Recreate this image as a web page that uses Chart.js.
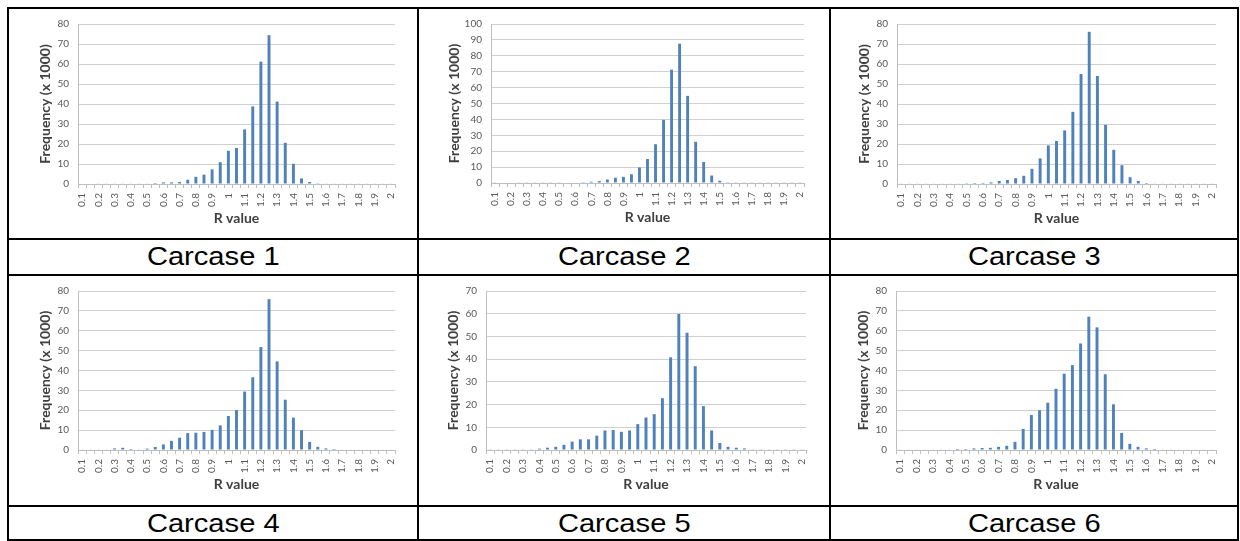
<!DOCTYPE html>
<html>
<head>
<meta charset="utf-8">
<title>R value distributions</title>
<script src="https://cdn.jsdelivr.net/npm/chart.js"></script>
<style>
    body { margin: 0; background: #fff; width: 1240px; height: 541px; position: relative; overflow: hidden; }
    .rule { position: absolute; background: #000; }
    canvas { position: absolute; }
    .caption { position: absolute; text-align: center; font-family: "Liberation Sans", Arial, sans-serif; font-size: 26px; color: #000; line-height: 33px; }
    .caption span { display: inline-block; transform: scaleX(1.12); }
</style>
</head>
<body>
<canvas id="carcase1"></canvas>
<canvas id="carcase2"></canvas>
<canvas id="carcase3"></canvas>
<canvas id="carcase4"></canvas>
<canvas id="carcase5"></canvas>
<canvas id="carcase6"></canvas>

<script>
// R value bins (0.05 wide); only every other one gets a label
const rValues = ['0.1', '0.15', '0.2', '0.25', '0.3', '0.35', '0.4', '0.45', '0.5', '0.55',
                 '0.6', '0.65', '0.7', '0.75', '0.8', '0.85', '0.9', '0.95', '1', '1.05',
                 '1.1', '1.15', '1.2', '1.25', '1.3', '1.35', '1.4', '1.45', '1.5', '1.55',
                 '1.6', '1.65', '1.7', '1.75', '1.8', '1.85', '1.9', '1.95', '2'];

// Frequency (x 1000) per bin
const carcase1 = [0, 0, 0.3, 0.3, 0.3, 0.3, 0.3, 0.3, 0.3, 0.5,
                  0.8, 0.8, 1.0, 2.1, 3.6, 4.7, 7.3, 10.9, 16.6, 18.0,
                  27.3, 38.8, 61.2, 74.4, 41.2, 20.6, 10.1, 2.8, 1.0, 0.4,
                  0.3, 0.3, 0.3, 0.3, 0.3, 0.3, 0.3, 0.3, 0.3];
const carcase2 = [0.2, 0.3, 0.3, 0.2, 0.2, 0.2, 0.2, 0.2, 0.2, 0.3,
                  0.3, 0.5, 0.8, 1.2, 2.2, 3.3, 3.9, 5.5, 9.8, 15.1,
                  24.4, 39.7, 71.3, 87.6, 54.8, 25.9, 13.2, 4.7, 1.4, 0.5,
                  0.2, 0.2, 0.2, 0.2, 0.2, 0.2, 0.2, 0.2, 0.2];
const carcase3 = [0.3, 0.3, 0.3, 0.3, 0.3, 0.3, 0.3, 0.3, 0.4, 0.5,
                  0.5, 0.8, 1.5, 2.0, 2.9, 4.1, 7.6, 12.8, 19.3, 21.5,
                  26.8, 36.1, 55.0, 76.1, 54.0, 29.6, 17.1, 9.4, 3.4, 1.5,
                  0.5, 0.3, 0.3, 0.3, 0.3, 0.3, 0.3, 0.3, 0.3];
const carcase4 = [0.2, 0.3, 0.3, 0.3, 0.8, 1.1, 0.5, 0.3, 0.7, 1.5,
                  2.8, 4.6, 6.2, 8.5, 8.7, 9.1, 10.1, 12.4, 17.1, 20.1,
                  29.4, 36.6, 51.8, 75.9, 44.6, 25.3, 16.3, 10.0, 4.1, 1.6,
                  0.8, 0.5, 0.3, 0.3, 0.3, 0.3, 0.3, 0.3, 0.3];
const carcase5 = [0.3, 0.3, 0.3, 0.3, 0.3, 0.3, 0.6, 1.0, 1.4, 2.3,
                  3.7, 4.7, 4.7, 6.3, 8.6, 8.8, 8.0, 8.6, 11.4, 14.3,
                  15.8, 22.8, 40.8, 59.9, 51.6, 36.9, 19.3, 8.6, 3.1, 1.4,
                  1.0, 0.7, 0.3, 0.3, 0.3, 0.3, 0.3, 0.3, 0.3];
const carcase6 = [0.3, 0.3, 0.3, 0.3, 0.3, 0.3, 0.3, 0.5, 0.5, 0.8,
                  1.0, 1.1, 1.6, 2.1, 4.1, 10.6, 17.6, 20.0, 23.8, 30.8,
                  38.4, 42.7, 53.6, 67.1, 61.7, 38.1, 23.0, 8.6, 3.1, 1.6,
                  0.8, 0.5, 0.3, 0.3, 0.3, 0.3, 0.3, 0.3, 0.3];

const yMaxes = [80, 100, 80, 80, 70, 80];
const captions = ['Carcase 1', 'Carcase 2', 'Carcase 3', 'Carcase 4', 'Carcase 5', 'Carcase 6'];

// table grid
const colEdges = [7, 417, 829, 1237];
const rowEdges = [7, 238, 274, 504.5, 539];

// cell boxes the canvases sit in, and where each plot area should land
const boxes = [
    { l: 9, t: 9, r: 416, b: 238 },
    { l: 419, t: 9, r: 828, b: 238 },
    { l: 831, t: 9, r: 1236, b: 238 },
    { l: 9, t: 276, r: 416, b: 504 },
    { l: 419, t: 276, r: 828, b: 504 },
    { l: 831, t: 276, r: 1236, b: 504 }
];
const plots = [
    { l: 78, t: 20, r: 395, b: 184 },
    { l: 491, t: 20, r: 804, b: 183 },
    { l: 897, t: 20, r: 1216, b: 184 },
    { l: 78, t: 287, r: 395, b: 450 },
    { l: 486, t: 286, r: 806, b: 450 },
    { l: 896, t: 286, r: 1216, b: 450 }
];

const BAR_BLUE = '#4F81BD';
const TICK_FONT = { family: 'Lato', size: 10 };
const TITLE_FONT = { family: 'Lato', size: 14, weight: 'bold', lineHeight: 1.2 };

function drawTable() {
    rowEdges.forEach(y => addRule(colEdges[0], y, colEdges[3] - colEdges[0] + 2, 2));
    colEdges.forEach(x => addRule(x, rowEdges[0], 2, rowEdges[4] - rowEdges[0] + 2));

    const captionRows = [[240, 273], [506.5, 539]];
    captions.forEach((text, i) => {
        const col = i % 3, row = Math.floor(i / 3);
        const div = document.createElement('div');
        div.className = 'caption';
        const span = document.createElement('span');
        span.textContent = text;
        div.appendChild(span);
        div.style.left = (colEdges[col] + 2) + 'px';
        div.style.width = (colEdges[col + 1] - colEdges[col] - 2) + 'px';
        div.style.top = captionRows[row][0] + 'px';
        div.style.height = (captionRows[row][1] - captionRows[row][0]) + 'px';
        document.body.appendChild(div);
    });
}

function addRule(x, y, w, h) {
    const d = document.createElement('div');
    d.className = 'rule';
    d.style.left = x + 'px';
    d.style.top = y + 'px';
    d.style.width = w + 'px';
    d.style.height = h + 'px';
    document.body.appendChild(d);
}

function drawHistogram(id, values, yMax, box, plot) {
    const ctx = document.getElementById(id);
    if (!ctx) return;

    ctx.width = box.r - box.l;
    ctx.height = box.b - box.t;
    ctx.style.left = box.l + 'px';
    ctx.style.top = box.t + 'px';

    const halfTitle = TITLE_FONT.size * TITLE_FONT.lineHeight / 2;
    const yTitleX = plot.l - (yMax >= 100 ? 37 : 33);
    const xTitleY = plot.b + 34;

    new Chart(ctx, {
        type: 'bar',
        data: {
            labels: rValues,
            datasets: [{
                data: values,
                backgroundColor: BAR_BLUE,
                borderWidth: 0,
                barPercentage: 0.36,
                categoryPercentage: 1
            }]
        },
        options: {
            responsive: false,
            animation: false,
            layout: {
                padding: { left: 0, top: plot.t - box.t, right: box.r - plot.r, bottom: 0 }
            },
            plugins: {
                legend: { display: false },
                tooltip: { enabled: false }
            },
            scales: {
                x: {
                    grid: { drawOnChartArea: false, drawTicks: true, tickLength: 4, offset: true, color: '#bfbfbf' },
                    border: { color: '#bfbfbf' },
                    ticks: {
                        autoSkip: false,
                        minRotation: 90,
                        maxRotation: 90,
                        padding: 5,
                        color: '#595959',
                        font: TICK_FONT,
                        callback: function(value, index) {
                            return index % 2 === 0 ? rValues[index] : '';
                        }
                    },
                    title: {
                        display: true,
                        text: 'R value',
                        color: '#404040',
                        font: TITLE_FONT,
                        padding: { top: 0, bottom: box.b - xTitleY - halfTitle }
                    },
                    afterFit: function(scale) {
                        scale.height = box.b - plot.b;
                    }
                },
                y: {
                    min: 0,
                    max: yMax,
                    grid: { color: '#d0d0d0', drawTicks: false },
                    border: { color: '#bfbfbf' },
                    ticks: {
                        stepSize: 10,
                        padding: 9,
                        color: '#595959',
                        font: TICK_FONT
                    },
                    title: {
                        display: true,
                        text: 'Frequency (x 1000)',
                        color: '#404040',
                        font: TITLE_FONT,
                        padding: { top: yTitleX - box.l - halfTitle, bottom: 0 }
                    },
                    afterFit: function(scale) {
                        scale.width = plot.l - box.l;
                    }
                }
            }
        }
    });
}

document.addEventListener('DOMContentLoaded', function() {
    drawTable();
    const series = [carcase1, carcase2, carcase3, carcase4, carcase5, carcase6];
    series.forEach((values, i) => {
        drawHistogram('carcase' + (i + 1), values, yMaxes[i], boxes[i], plots[i]);
    });
});
</script>
</body>
</html>
